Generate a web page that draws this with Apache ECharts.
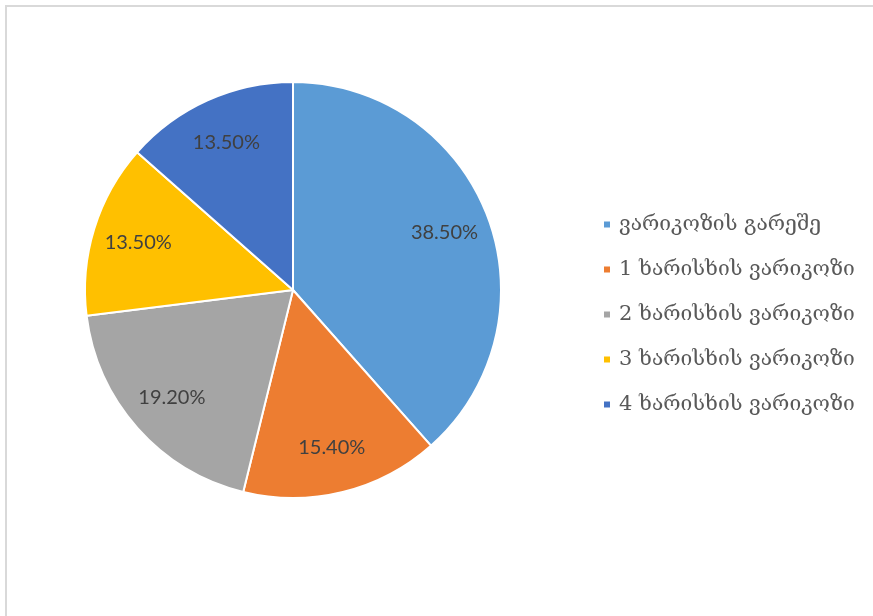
<!DOCTYPE html>
<html>
<head>
<meta charset="utf-8">
<script src="https://cdn.jsdelivr.net/npm/echarts@6/dist/echarts.min.js"></script>
<style>
  html, body { margin: 0; padding: 0; background: #fff; }
  #chart { width: 873px; height: 616px; }
</style>
</head>
<body>
<div id="chart"></div>
<script>
// Share of patients by varicose grade
const categories = [
  'ვარიკოზის გარეშე',
  '1 ხარისხის ვარიკოზი',
  '2 ხარისხის ვარიკოზი',
  '3 ხარისხის ვარიკოზი',
  '4 ხარისხის ვარიკოზი'
];
const values = [38.5, 15.4, 19.2, 13.5, 13.5];
const colors = ['#5B9BD5', '#ED7D31', '#A5A5A5', '#FFC000', '#4472C4'];

const pieData = categories.map((name, i) => ({ name, value: values[i] }));

const center = [293, 290];
const outerR = 208;

const chart = echarts.init(document.getElementById('chart'), null, { renderer: 'canvas' });
chart.setOption({
  backgroundColor: '#ffffff',
  color: colors,
  animation: false,
  graphic: [{
    type: 'rect',
    shape: { x: 6, y: 6, width: 900, height: 640 },
    style: { fill: 'none', stroke: '#d9d9d9', lineWidth: 2 },
    silent: true
  }],
  legend: {
    orient: 'vertical',
    left: 602,
    top: 214,
    padding: 0,
    itemWidth: 8,
    itemHeight: 8,
    itemGap: 24,
    icon: 'rect',
    textStyle: {
      fontFamily: 'DejaVu Serif',
      fontSize: 21,
      lineHeight: 21,
      color: '#595959',
      padding: [0, 0, 0, 3]
    },
    data: categories
  },
  series: [
    {
      type: 'pie',
      center: center,
      radius: [0, outerR],
      startAngle: 90,
      clockwise: true,
      itemStyle: { borderColor: '#ffffff', borderWidth: 2 },
      label: { show: false },
      labelLine: { show: false },
      emphasis: { disabled: true },
      data: pieData
    },
    {
      // transparent ring that only carries the percentage labels
      type: 'pie',
      center: center,
      radius: [110, outerR],
      startAngle: 90,
      clockwise: true,
      silent: true,
      legendHoverLink: false,
      itemStyle: { color: 'rgba(0,0,0,0)', borderWidth: 0 },
      label: {
        show: true,
        position: 'inside',
        formatter: p => p.value.toFixed(2) + '%',
        fontFamily: 'Lato',
        fontSize: 20,
        color: '#404040'
      },
      labelLine: { show: false },
      emphasis: { disabled: true },
      data: pieData.map(d => ({ name: d.name + ' ', value: d.value }))
    }
  ]
});
</script>
</body>
</html>
